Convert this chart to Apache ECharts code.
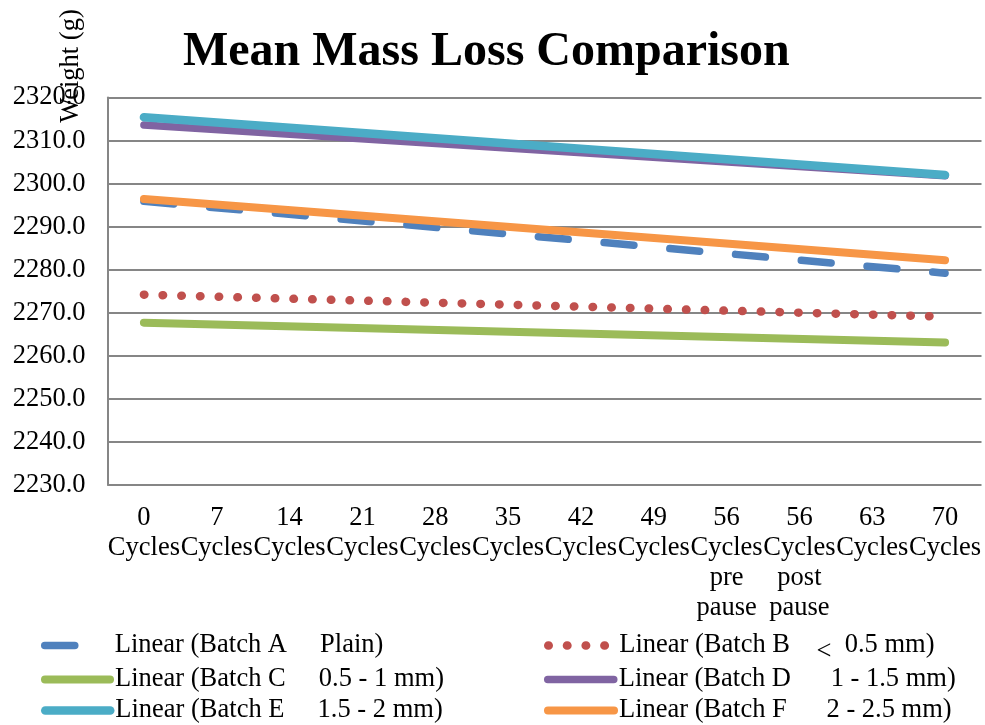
<!DOCTYPE html>
<html>
<head>
<meta charset="utf-8">
<script src="https://cdn.jsdelivr.net/npm/echarts@6/dist/echarts.min.js"></script>
<style>html,body{margin:0;padding:0;background:#fff}#c{width:985px;height:725px}</style>
</head>
<body>
<div id="c"></div>
<script>
// Category labels (x axis)
var categories = ['0\nCycles','7\nCycles','14\nCycles','21\nCycles','28\nCycles','35\nCycles','42\nCycles','49\nCycles','56\nCycles\npre\npause','56\nCycles\npost\npause','63\nCycles','70\nCycles'];
// Linear trendlines: value at the first and last category (g)
var batchA = [2295.9, 2279.2];
var batchB = [2274.2, 2269.1];
var batchC = [2267.7, 2263.1];
var batchD = [2313.6, 2301.8];
var batchE = [2315.4, 2302.0];
var batchF = [2296.4, 2282.2];
var seriesNames = ['Linear (Batch A     Plain)','Linear (Batch B    <  0.5 mm)','Linear (Batch C     0.5 - 1 mm)','Linear (Batch D      1 - 1.5 mm)','Linear (Batch E     1.5 - 2 mm)','Linear (Batch F      2 - 2.5 mm)'];
var yTicks = {min: 2230, max: 2320, interval: 10};

var FONT = '"Liberation Serif","Times New Roman",serif';
var FS = 26.5;
var colors = ['#4F81BD','#C0504D','#9BBB59','#8064A2','#4BACC6','#F79646'];
var styles = [
  {type:[30,36], width:7.5},
  {type:[0.5,18.2], width:8.5},
  {type:'solid', width:8},
  {type:'solid', width:7.5},
  {type:'solid', width:8.5},
  {type:'solid', width:8}
];
var values = [batchA,batchB,batchC,batchD,batchE,batchF];

function trend(v){
  return [[categories[0], v[0]], [categories[categories.length-1], v[1]]];
}

var series = values.map(function(v,i){
  return {
    name: seriesNames[i],
    type: 'line',
    data: trend(v),
    symbol: 'none',
    silent: true,
    animation: false,
    itemStyle: {color: colors[i], opacity: 0},
    lineStyle: {color: colors[i], width: styles[i].width, type: styles[i].type, cap: 'round', join:'round'}
  };
});

function legendFor(idx, left, top, w){
  return {
    data: [seriesNames[idx]],
    left: left, top: top,
    orient: 'vertical',
    itemWidth: w, itemHeight: 2,
    padding: 0,
    selectedMode: false,
    itemStyle: {opacity: 0},
    lineStyle: {width: 'inherit', type: 'inherit', cap: 'inherit'},
    textStyle: {fontFamily: FONT, fontSize: FS, color: '#000', rich: {lt: {fontFamily: FONT, fontSize: FS, color:'#000', padding:[14,0,0,0]}}},
    formatter: function(n){ return n.replace('<', '{lt|<}'); }
  };
}

var chart = echarts.init(document.getElementById('c'));
chart.setOption({
  backgroundColor: '#fff',
  animation: false,
  title: {
    text: 'Mean Mass Loss Comparison',
    left: 183, top: 29,
    padding: 0,
    textStyle: {fontFamily: FONT, fontSize: 48, fontWeight: 'bold', color: '#000'}
  },
  grid: {left: 107.5, right: 3.5, top: 97.5, bottom: 240},
  xAxis: {
    type: 'category',
    data: categories,
    boundaryGap: true,
    axisLine: {show: false},
    axisTick: {show: false},
    splitLine: {show: false},
    axisLabel: {interval: 0, fontFamily: FONT, fontSize: FS, color: '#000', lineHeight: 30, margin: 18}
  },
  yAxis: {
    type: 'value',
    min: yTicks.min, max: yTicks.max, interval: yTicks.interval,
    axisLine: {show: true, lineStyle: {color: '#868686', width: 2}},
    axisTick: {show: false},
    splitLine: {show: true, lineStyle: {color: '#868686', width: 2}},
    axisLabel: {fontFamily: FONT, fontSize: FS, color: '#000', margin: 22, formatter: function(v){return v.toFixed(1);}}
  },
  legend: [
    legendFor(0, 41, 632, 65),
    legendFor(1, 544, 632, 66),
    legendFor(2, 41, 666, 65),
    legendFor(3, 544, 666, 66),
    legendFor(4, 41, 697, 65),
    legendFor(5, 544, 697, 66)
  ],
  graphic: [{
    type: 'text',
    x: 71, y: 66,
    rotation: Math.PI/2,
    style: {text: 'Weight (g)', fontFamily: FONT, fontSize: FS, fill: '#000', align: 'center', verticalAlign: 'middle'}
  }],
  series: series
});
</script>
</body>
</html>
